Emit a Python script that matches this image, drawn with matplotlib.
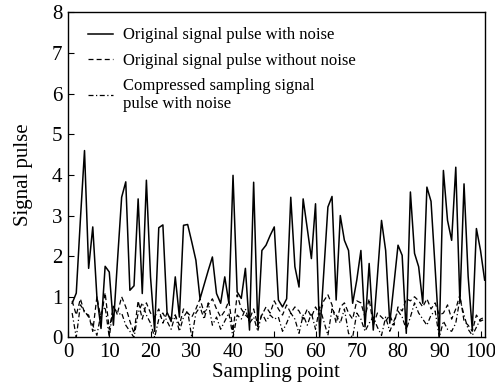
import numpy as np
import matplotlib
matplotlib.use('Agg')
import matplotlib.pyplot as plt

plt.rcParams['font.family'] = ['Liberation Serif', 'DejaVu Serif']
plt.rcParams['mathtext.fontset'] = 'stix'

# sampling points 1..101
sampling_point = np.arange(1, 102)

# original signal pulse with noise
pulse_noise = [0.84, 1.09, 2.9, 4.6, 1.7, 2.72, 1.0, 0.22, 1.75, 1.61,
               0.3, 1.9, 3.45, 3.83, 1.16, 1.27, 3.41, 1.08, 3.87, 1.49,
               0.15, 2.7, 2.77, 0.62, 0.39, 1.49, 0.5, 2.76, 2.78, 2.35,
               1.9, 0.95, 1.3, 1.65, 1.98, 1.08, 0.84, 1.49, 0.84, 3.99,
               1.12, 0.96, 1.7, 0.18, 3.82, 0.26, 2.14, 2.27, 2.51, 2.72,
               0.92, 0.75, 0.95, 3.45, 1.74, 1.24, 3.41, 2.68, 1.94, 3.29,
               0.02, 1.6, 3.21, 3.47, 0.92, 3.0, 2.39, 2.14, 0.84, 1.41,
               2.14, 0.26, 1.82, 0.18, 1.5, 2.88, 2.14, 0.35, 1.3, 2.27,
               2.02, 0.1, 3.58, 2.07, 1.74, 0.84, 3.7, 3.35, 1.7, 0.02,
               4.11, 2.88, 2.39, 4.19, 0.85, 3.78, 1.5, 0.18, 2.68, 2.14,
               1.41]

# original signal pulse without noise
pulse_clean = [0.9, 0.55, 0.95, 0.6, 0.55, 0.15, 1.0, 0.45, 1.1, 0.2,
               0.75, 0.6, 1.0, 0.75, 0.4, 0.1, 0.9, 0.45, 0.85, 0.6,
               0.5, 0.7, 0.35, 0.6, 0.45, 0.55, 0.3, 0.7, 0.6, 0.5,
               0.7, 0.95, 0.6, 0.8, 0.95, 0.7, 0.5, 0.65, 0.9, 0.15,
               1.05, 0.7, 0.55, 0.45, 0.7, 0.3, 0.55, 0.75, 0.6, 0.9,
               0.7, 0.55, 0.8, 0.6, 0.75, 0.65, 0.45, 0.7, 0.5, 0.75,
               0.55, 0.9, 1.05, 0.8, 0.35, 0.75, 0.85, 0.6, 0.45, 0.9,
               0.85, 0.5, 0.95, 0.3, 0.6, 0.5, 0.4, 0.55, 0.3, 0.75,
               0.65, 0.95, 0.9, 1.0, 0.9, 0.75, 0.95, 0.7, 0.85, 0.55,
               0.6, 0.8, 0.45, 0.7, 1.05, 0.4, 0.3, 0.15, 0.55, 0.4,
               0.45]

# compressed sampling signal pulse with noise
pulse_cs = [0.6, 0.0, 0.8, 0.65, 0.5, 0.3, 0.05, 0.6, 0.75, 0.0,
            0.8, 0.55, 0.6, 0.3, 0.15, 0.0, 0.6, 0.85, 0.55, 0.35,
            0.0, 0.45, 0.6, 0.4, 0.2, 0.55, 0.15, 0.5, 0.65, 0.0,
            0.6, 0.75, 0.45, 0.85, 0.3, 0.5, 0.2, 0.4, 0.6, 0.0,
            0.55, 0.45, 0.7, 0.35, 0.5, 0.15, 0.6, 0.4, 0.55, 0.45,
            0.5, 0.15, 0.35, 0.6, 0.45, 0.1, 0.55, 0.3, 0.6, 0.2,
            0.75, 0.4, 0.05, 0.7, 0.55, 0.35, 0.7, 0.1, 0.0, 0.6,
            0.45, 0.15, 0.35, 0.5, 0.25, 0.05, 0.5, 0.15, 0.4, 0.65,
            0.5, 0.2, 0.5, 0.85, 0.6, 0.45, 0.3, 0.55, 0.65, 0.0,
            0.4, 0.2, 0.15, 0.35, 0.95, 0.55, 0.2, 0.05, 0.25, 0.45,
            0.5]

fig = plt.figure(figsize=(4.95, 3.9), dpi=100)
ax = fig.add_axes([0.1374, 0.1349, 0.8417, 0.8331])

ax.plot(sampling_point, pulse_noise, '-', color='black', lw=1.1,
        label='Original signal pulse with noise')
ax.plot(sampling_point, pulse_clean, '--', color='black', lw=0.9,
        dashes=(4, 2.5), label='Original signal pulse without noise')
ax.plot(sampling_point, pulse_cs, '-.', color='black', lw=0.9,
        dashes=(4, 2, 1, 2),
        label='Compressed sampling signal\npulse with noise')

ax.set_xlim(0, 101)
ax.set_ylim(0, 8)
ax.set_xticks(np.arange(0, 101, 10))
ax.set_yticks(np.arange(0, 9, 1))
ax.tick_params(direction='in', length=4, width=0.8, labelsize=15, pad=4)
for s in ax.spines.values():
    s.set_linewidth(1.0)

ax.set_xlabel('Sampling point', fontsize=15, labelpad=1)
ax.set_ylabel('Signal pulse', fontsize=15, labelpad=14)

ax.legend(loc='upper left', bbox_to_anchor=(0.025, 0.985), frameon=False,
          fontsize=12, handlelength=1.5, handletextpad=0.55,
          labelspacing=0.55, borderaxespad=0.2)

fig.savefig('out.png', dpi=100)
